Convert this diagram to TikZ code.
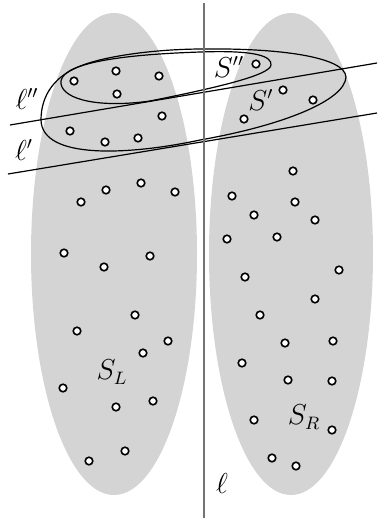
\documentclass[tikz,border=0pt]{standalone}
\begin{document}
\begin{tikzpicture}[x=0.5pt,y=-0.5pt,
    pt/.style={circle,draw,fill=white,line width=0.8pt,minimum size=3.8pt,inner sep=0pt},
    lbl/.style={font=\fontsize{13.5}{16}\selectfont,inner sep=0pt},
    cut/.style={line width=0.6pt}]
    \useasboundingbox (0,0) rectangle (377,521);

    % Die zwei Punktmengen (grau)
    \fill[black!17] (114,254) ellipse [x radius=41.5pt, y radius=120.5pt];
    \fill[black!17] (291,254) ellipse [x radius=41pt, y radius=120.5pt];

    % Geraden l'' und l'
    \coordinate (lzza) at (10,125);
    \coordinate (lzzb) at (377,63);
    \coordinate (lza) at (8,174);
    \coordinate (lzb) at (377,113);
    \draw[cut] (lzza) -- (lzzb);
    \draw[cut] (lza) -- (lzb);

    % S' und S''
    \draw[cut] (41,120) .. controls (41,95) and (55,75) .. (83,65)
        .. controls (110,55) and (160,49) .. (203,49)
        .. controls (280,48) and (345,57) .. (346,77)
        .. controls (345,100) and (285,125) .. (200,140)
        .. controls (130,155) and (42,160) .. (41,120) -- cycle;
    \draw[cut] (61,84) .. controls (58,65) and (110,55) .. (200,52)
        .. controls (255,50) and (272,56) .. (271,65)
        .. controls (270,75) and (220,87) .. (150,101)
        .. controls (100,108) and (64,100) .. (61,84) -- cycle;

    % Trenngerade l
    \coordinate (ltop) at (204,3);
    \coordinate (lbot) at (204,518);
    \draw[black!55, line width=0.6pt] (ltop) -- (lbot);

    % Punkte links
    \foreach \x/\y [count=\i] in {74/81,116/71,159/76,117/94,162/116,70/131,105/142,138/138,
        81/202,106/190,141/183,175/192,64/253,104/267,150/256,135/315,77/331,168/341,
        143/353,63/388,116/407,153/401,125/451,89/461} {
        \node[pt] (pl\i) at (\x,\y) {};
    }
    % Punkte rechts
    \foreach \x/\y [count=\i] in {256/64,283/90,313/100,244/119,293/171,232/196,295/202,
        254/215,315/220,227/239,277/237,339/270,245/277,315/299,260/315,285/343,333/341,
        242/363,288/380,332/381,254/420,332/430,272/458,296/466} {
        \node[pt] (pr\i) at (\x,\y) {};
    }

    % Beschriftungen
    \node[lbl] (nSzz) at (229,67) {$S''$};
    \node[lbl] (nSz) at (261,100) {$S'$};
    \node[lbl] (nlzz) at (27,99) {$\ell''$};
    \node[lbl] (nlz) at (24,150) {$\ell'$};
    \node[lbl] (nl) at (222,483) {$\ell$};
    \node[lbl] (nSL) at (112,372) {$S_L$};
    \node[lbl] (nSR) at (304,417) {$S_R$};
\end{tikzpicture}
\end{document}
